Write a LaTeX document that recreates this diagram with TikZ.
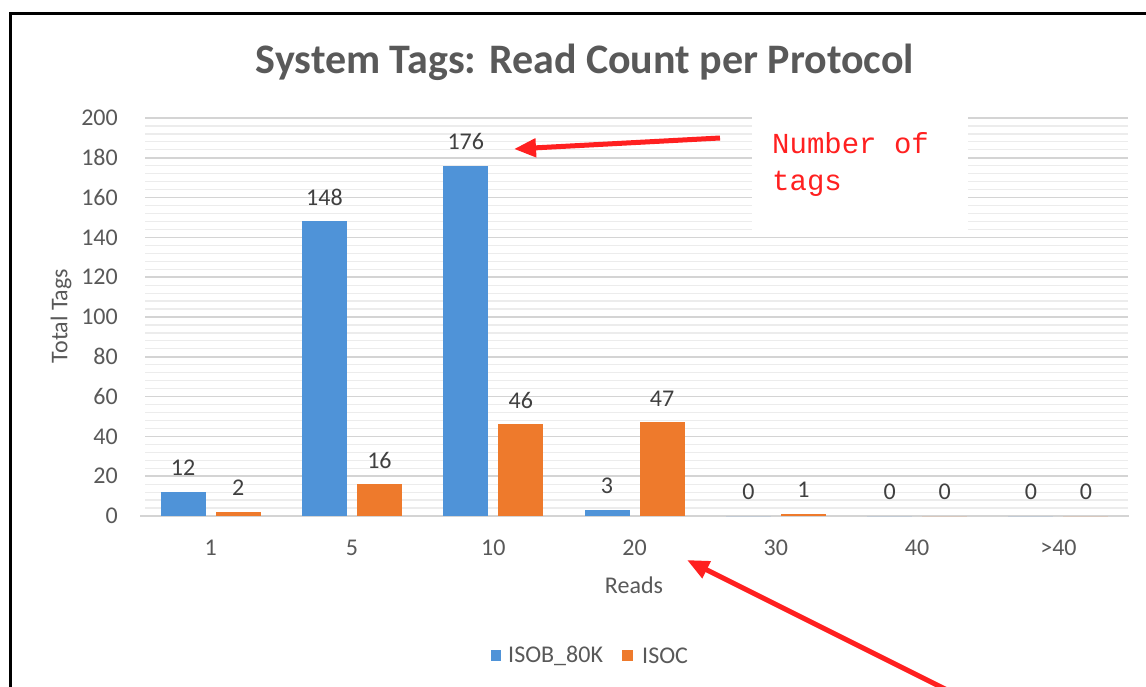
\documentclass[tikz,border=0pt]{standalone}
\usepackage{fontspec}
\setmainfont{Carlito}
\newfontfamily\codefont{Liberation Mono}
\usetikzlibrary{arrows.meta}
\definecolor{barblue}{HTML}{4F93D8}
\definecolor{barorange}{HTML}{EE7A2C}
\definecolor{txtgray}{HTML}{595959}
\definecolor{lbldark}{HTML}{404040}
\definecolor{gridmaj}{HTML}{D4D4D4}
\definecolor{gridmin}{HTML}{ECECEC}
\definecolor{annred}{HTML}{FF2020}
\tikzset{
  vlab/.style={font=\fontsize{24}{28}\selectfont, text=lbldark, inner sep=0pt},
  catlab/.style={font=\fontsize{24}{28}\selectfont, text=txtgray, inner sep=0pt},
  ticklab/.style={font=\fontsize{24}{28}\selectfont, text=txtgray, inner sep=0pt, anchor=east},
  redarrow/.style={draw=annred, line width=5pt, -{Triangle[length=22pt,width=18pt]}},
}
\begin{document}
\begin{tikzpicture}[x=1pt,y=-1pt]
\useasboundingbox (0,0) rectangle (1146,686);
\fill[white] (0,0) rectangle (1146,686);
% frame
\draw[black, line width=3pt] (10,13) rectangle (1170,720);
% minor grid
\foreach \v in {4,8,...,196}{
  \draw[gridmin, line width=1.2pt] (145,516-\v*1.99) -- (1128,516-\v*1.99);
}
% major grid
\foreach \v in {20,40,...,200}{
  \draw[gridmaj, line width=1.6pt] (145,516-\v*1.99) -- (1128,516-\v*1.99);
}
\draw[gridmaj, line width=1.6pt] (140,516) -- (1129,516);
% tick labels
\foreach \v in {0,20,...,200}{
  \node[ticklab] (t\v) at (118,516-\v*1.99) {\v};
}
% title
\node[font=\bfseries\fontsize{42}{46}\selectfont, text=txtgray, inner sep=0pt] (title) at (585,62) {System Tags: Read Count per Protocol};
% axis titles
\node[font=\fontsize{24}{28}\selectfont, text=txtgray, rotate=90, inner sep=0pt] (ytitle) at (61,316) {Total Tags};
\node[font=\fontsize{24}{28}\selectfont, text=txtgray, inner sep=0pt] (xtitle) at (634,585) {Reads};
% bars
\foreach \lab/\b/\o [count=\i from 0] in {1/12/2, 5/148/16, 10/176/46, 20/3/47, 30/0/1, 40/0/0, >40/0/0}{
  \pgfmathsetmacro\c{140+141.3*(\i+0.5)}
  \pgfmathsetmacro\yb{516-\b*1.99}
  \pgfmathsetmacro\yo{516-\o*1.99}
  \fill[barblue] (\c-50,516) rectangle (\c-5,\yb);
  \fill[barorange] (\c+5,516) rectangle (\c+50,\yo);
  \node[vlab] (vb\i) at (\c-27.5,\yb-24) {\b};
  \node[vlab] (vo\i) at (\c+27.5,\yo-24) {\o};
  \node[catlab] (cat\i) at (\c,548) {\lab};
}
% annotation box
\fill[white] (752,110) rectangle (968,230);
\node[font=\codefont\fontsize{29}{37}\selectfont, text=annred, align=left, anchor=north west, inner sep=0pt] (note) at (772,132) {Number of\\tags};
% legend
\fill[barblue] (491,650) rectangle (501,661);
\node[font=\fontsize{24}{28}\selectfont, text=txtgray, anchor=west, inner sep=0pt] (legb) at (508,656) {ISOB\_80K};
\fill[barorange] (622,650) rectangle (633,661);
\node[font=\fontsize{24}{28}\selectfont, text=txtgray, anchor=west, inner sep=0pt] (lego) at (642,656) {ISOC};
% arrows
\coordinate (a1s) at (720,138);
\coordinate (a1e) at (514,149);
\draw[redarrow] (a1s) -- (a1e);
\coordinate (a2s) at (947,690);
\coordinate (a2e) at (687,560);
\draw[redarrow] (a2s) -- (a2e);
\end{tikzpicture}
\end{document}
